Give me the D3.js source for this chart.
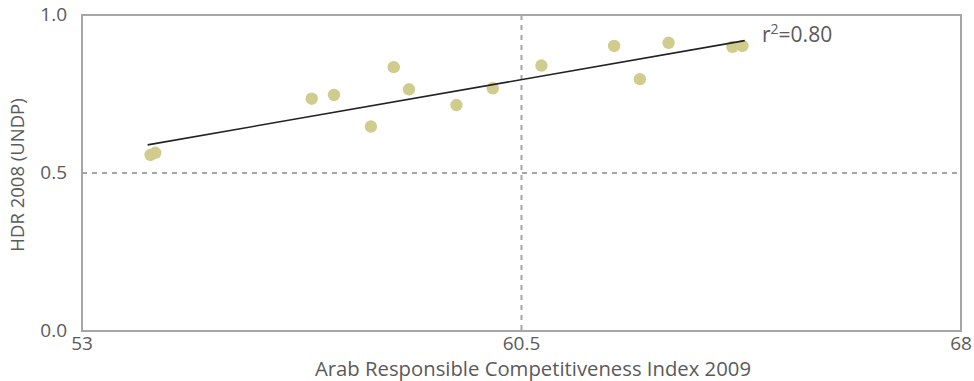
<!DOCTYPE html>
<html><head><meta charset="utf-8">
<script src="https://cdn.jsdelivr.net/npm/d3@7"></script>
<style>body{margin:0;background:#fff}svg{display:block}text{font-family:"Open Sans",sans-serif}</style>
</head><body><svg id="c" width="974" height="381"></svg>
<script>
const pointsX = [54.17, 54.25, 56.92, 57.30, 57.93, 58.32, 58.58, 59.39, 60.01, 60.84, 62.08, 62.52, 63.01, 64.10, 64.27];
const pointsY = [0.557, 0.564, 0.735, 0.747, 0.647, 0.835, 0.765, 0.715, 0.768, 0.840, 0.902, 0.797, 0.912, 0.899, 0.902];
const trendX = [54.12, 64.31];
const trendY = [0.589, 0.919];
const xTicks = [53, 60.5, 68];
const yTicks = [0.0, 0.5, 1.0];
const refX = [60.5];
const refY = [0.5];
const r2Label = "0.80";

const svg = d3.select("#c");
const L = 82, R = 961, T = 15, B = 331;
const x = d3.scaleLinear().domain([53, 68]).range([L, R]);
const y = d3.scaleLinear().domain([0, 1]).range([B, T]);
const grey = "#a6a6a6", txt = "#5a5a5a";

// reference dashed lines
svg.selectAll("line.rx").data(refX).join("line").attr("class","rx")
  .attr("x1", d=>x(d)).attr("x2", d=>x(d)).attr("y1", T).attr("y2", B)
  .attr("stroke", grey).attr("stroke-width", 2).attr("stroke-dasharray", "5,5");
svg.selectAll("line.ry").data(refY).join("line").attr("class","ry")
  .attr("x1", L).attr("x2", R).attr("y1", d=>y(d)).attr("y2", d=>y(d))
  .attr("stroke", grey).attr("stroke-width", 2).attr("stroke-dasharray", "5,5");

// frame
svg.append("rect").attr("x", L).attr("y", T).attr("width", R-L).attr("height", B-T)
  .attr("fill", "none").attr("stroke", grey).attr("stroke-width", 2);

// points
svg.selectAll("circle").data(pointsX.map((v,i)=>[v, pointsY[i]])).join("circle")
  .attr("cx", d=>x(d[0])).attr("cy", d=>y(d[1])).attr("r", 6.2)
  .attr("fill", "#cfcc8e");

// trend line
svg.append("line").attr("x1", x(trendX[0])).attr("y1", y(trendY[0]))
  .attr("x2", x(trendX[1])).attr("y2", y(trendY[1]))
  .attr("stroke", "#222").attr("stroke-width", 1.6);

// r2 label
const lab = svg.append("text").attr("x", 762).attr("y", 42)
  .attr("fill", txt).attr("font-size", 21);
lab.append("tspan").text("r");
lab.append("tspan").attr("dy", -8).attr("font-size", 14).text("2");
lab.append("tspan").attr("dy", 8).text("=" + r2Label);

// y ticks
svg.selectAll("text.yt").data(yTicks).join("text").attr("class","yt")
  .attr("x", 67).attr("y", d=>y(d) + 6).attr("text-anchor", "end")
  .attr("fill", txt).attr("font-size", 19).text(d=>d3.format(".1f")(d));
// x ticks
svg.selectAll("text.xt").data(xTicks).join("text").attr("class","xt")
  .attr("x", d=>x(d)).attr("y", 349.5).attr("text-anchor", "middle")
  .attr("fill", txt).attr("font-size", 19).text(d=>d);

// axis titles
svg.append("text").attr("x", 533).attr("y", 376).attr("text-anchor", "middle")
  .attr("fill", txt).attr("font-size", 20.3).text("Arab Responsible Competitiveness Index 2009");
svg.append("text").attr("transform", "translate(24,175) rotate(-90)").attr("text-anchor", "middle")
  .attr("fill", txt).attr("font-size", 18.5).text("HDR 2008 (UNDP)");
</script></body></html>
